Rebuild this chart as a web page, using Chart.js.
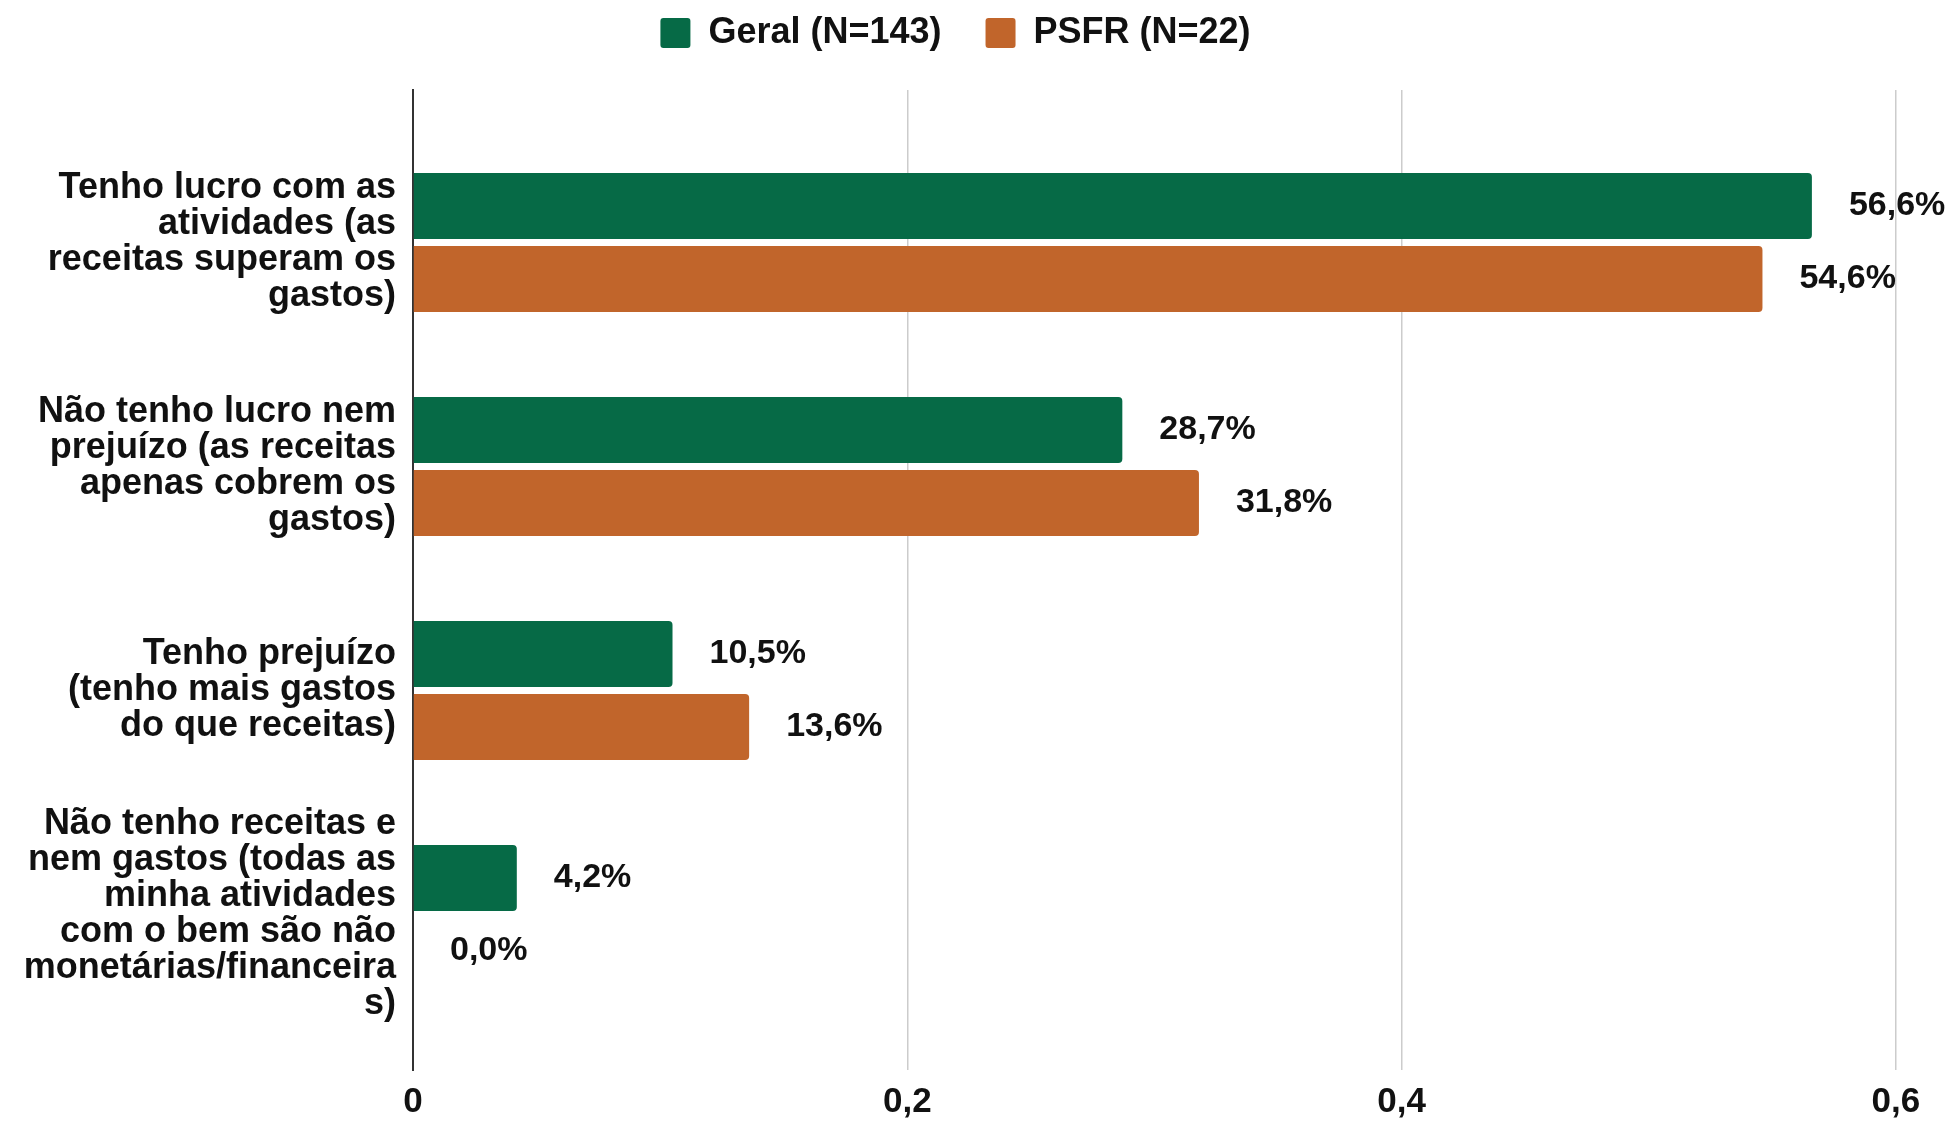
<!DOCTYPE html>
<html>
<head>
<meta charset="utf-8">
<script src="https://cdn.jsdelivr.net/npm/chart.js@4.4.1/dist/chart.umd.min.js"></script>
<style>
  body { margin: 0; background: #fff; }
  #wrap { width: 1955px; height: 1124px; }
</style>
</head>
<body>
<div id="wrap"><canvas id="lucroChart"></canvas></div>
<script>
// ----- data -----
const categories = [
  ["Tenho lucro com as", "atividades (as", "receitas superam os", "gastos)"],
  ["Não tenho lucro nem", "prejuízo (as receitas", "apenas cobrem os", "gastos)"],
  ["Tenho prejuízo", "(tenho mais gastos", "do que receitas)"],
  ["Não tenho receitas e", "nem gastos (todas as", "minha atividades", "com o bem são não", "monetárias/financeira", "s)"]
];
const seriesNames = ["Geral (N=143)", "PSFR (N=22)"];
const geral = [0.566, 0.287, 0.105, 0.042];
const psfr = [0.546, 0.318, 0.136, 0.0];
const xTicks = [0, 0.2, 0.4, 0.6];

const FONT = '"Liberation Sans", Arial, sans-serif';
Chart.defaults.font.family = FONT;
Chart.defaults.color = "#111";

const toPoints = arr => arr.map((v, i) => ({ x: v, y: i }));
const pct = v => (v * 100).toFixed(1).replace(".", ",") + "%";

// ===== value labels at the end of every bar =====
const valueLabels = {
  id: "valueLabels",
  afterDatasetsDraw(chart) {
    const ctx = chart.ctx;
    ctx.save();
    ctx.font = "bold 34px " + FONT;
    ctx.fillStyle = "#111";
    ctx.textAlign = "left";
    ctx.textBaseline = "middle";
    chart.data.datasets.forEach((ds, i) => {
      chart.getDatasetMeta(i).data.forEach((bar, j) => {
        ctx.fillText(pct(ds.data[j].x), bar.x + 37, bar.y);
      });
    });
    ctx.restore();
  }
};

// legend padding is also the gap between items, so pull the legend up a bit
const legendUp = {
  id: "legendUp",
  afterLayout(chart) {
    chart.legend.top -= 29;
    chart.legend.bottom -= 29;
  }
};

new Chart(document.getElementById("lucroChart"), {
  type: "bar",
  data: {
    datasets: [
      { label: seriesNames[0], data: toPoints(geral), backgroundColor: "#066a46", borderWidth: 0, borderRadius: 4 },
      { label: seriesNames[1], data: toPoints(psfr), backgroundColor: "#c1652b", borderWidth: 0, borderRadius: 4 }
    ]
  },
  options: {
    indexAxis: "y",
    responsive: true,
    maintainAspectRatio: false,
    animation: false,
    categoryPercentage: 0.652,
    barPercentage: 0.904,
    layout: { padding: { top: 0, right: 44, left: 0, bottom: 4 } },
    plugins: {
      legend: {
        position: "top",
        labels: {
          font: { size: 36, weight: "bold" },
          boxWidth: 30,
          boxHeight: 30,
          padding: 44,
          useBorderRadius: true,
          borderRadius: 3
        }
      },
      tooltip: { enabled: false }
    },
    scales: {
      x: {
        type: "linear",
        min: 0,
        max: 0.6061,
        afterBuildTicks: axis => { axis.ticks = xTicks.map(v => ({ value: v })); },
        afterFit: s => { s.height = 50; },
        grid: { color: "#cccccc", lineWidth: 1.5, drawTicks: false },
        border: { display: false },
        ticks: {
          padding: 15,
          font: { size: 35, weight: "bold", lineHeight: 1 },
          callback: v => v === 0 ? "0" : String(v).replace(".", ",")
        }
      },
      y: {
        type: "linear",
        reverse: true,
        offset: false,
        min: -0.681,
        max: 3.694,
        afterBuildTicks: axis => { axis.ticks = categories.map((c, i) => ({ value: i })); },
        afterFit: s => { s.width = 413; s.paddingTop = 0; s.paddingBottom = 0; },
        grid: { display: false, drawTicks: false, offset: false },
        border: { display: true, color: "#333", width: 2 },
        ticks: {
          padding: 17,
          font: { size: 36, weight: "bold", lineHeight: "36px" },
          callback: v => categories[v]
        }
      }
    }
  },
  plugins: [valueLabels, legendUp]
});
</script>
</body>
</html>
